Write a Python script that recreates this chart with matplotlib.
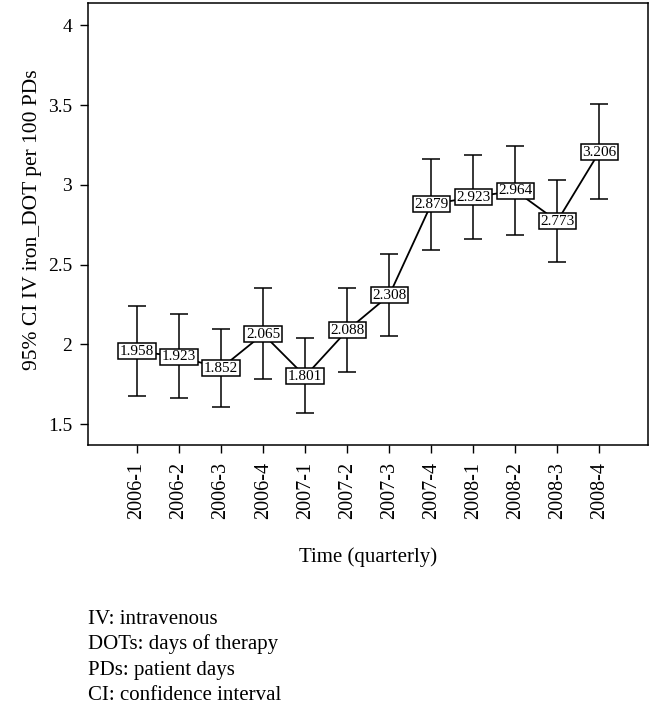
import numpy as np
import matplotlib.pyplot as plt

plt.rcParams['font.family'] = ['Liberation Serif', 'DejaVu Serif']

# data
quarters = ['2006-1', '2006-2', '2006-3', '2006-4',
            '2007-1', '2007-2', '2007-3', '2007-4',
            '2008-1', '2008-2', '2008-3', '2008-4']
means = [1.958, 1.923, 1.852, 2.065, 1.801, 2.088,
         2.308, 2.879, 2.923, 2.964, 2.773, 3.206]
ci_low = [1.679, 1.662, 1.608, 1.785, 1.570, 1.829,
          2.056, 2.595, 2.662, 2.685, 2.516, 2.910]
ci_high = [2.242, 2.190, 2.100, 2.351, 2.038, 2.351,
           2.566, 3.165, 3.188, 3.246, 3.033, 3.505]
notes = ['IV: intravenous', 'DOTs: days of therapy',
         'PDs: patient days', 'CI: confidence interval']

W, H = 651, 708
fig = plt.figure(figsize=(W/100, H/100), dpi=100)
ax = fig.add_axes([87.5/W, 1 - 445/H, (648 - 87.5)/W, 442/H])

x = np.arange(len(quarters))
m = np.array(means)
yerr = [m - np.array(ci_low), np.array(ci_high) - m]

ax.errorbar(x, m, yerr=yerr, fmt='none', ecolor='black',
            elinewidth=1.1, capsize=6.5, capthick=1.1, zorder=2)
ax.plot(x, m, color='black', lw=1.3, zorder=3)

for xi, v in zip(x, means):
    ax.text(xi, v, f'{v:.3f}', ha='center', va='center', fontsize=11,
            zorder=5,
            bbox=dict(boxstyle='square,pad=0.1', fc='white', ec='black', lw=1.1))

ax.set_xlim(-1.18, 12.16)
ax.set_ylim(1.37, 4.14)
ax.set_yticks([1.5, 2, 2.5, 3, 3.5, 4])
ax.set_yticklabels(['1.5', '2', '2.5', '3', '3.5', '4'])
ax.set_xticks(x)
ax.set_xticklabels(quarters, rotation=90)
ax.tick_params(axis='both', direction='out', length=6, width=1, labelsize=14)
ax.tick_params(axis='x', labelsize=14.5, pad=6)
ax.tick_params(axis='y', pad=5)
for s in ax.spines.values():
    s.set_linewidth(1.1)

ax.set_ylabel('95% CI IV iron_DOT per 100 PDs', fontsize=15.5)
ax.yaxis.set_label_coords(-0.081, 0.51)
ax.set_xlabel('Time (quarterly)', fontsize=15)
ax.xaxis.set_label_coords(0.5, -0.232)

for i, t in enumerate(notes):
    fig.text(88/W, 1 - (619 + 25.5*i)/H, t, fontsize=15, va='center', ha='left')

fig.savefig('out.png', dpi=100)
